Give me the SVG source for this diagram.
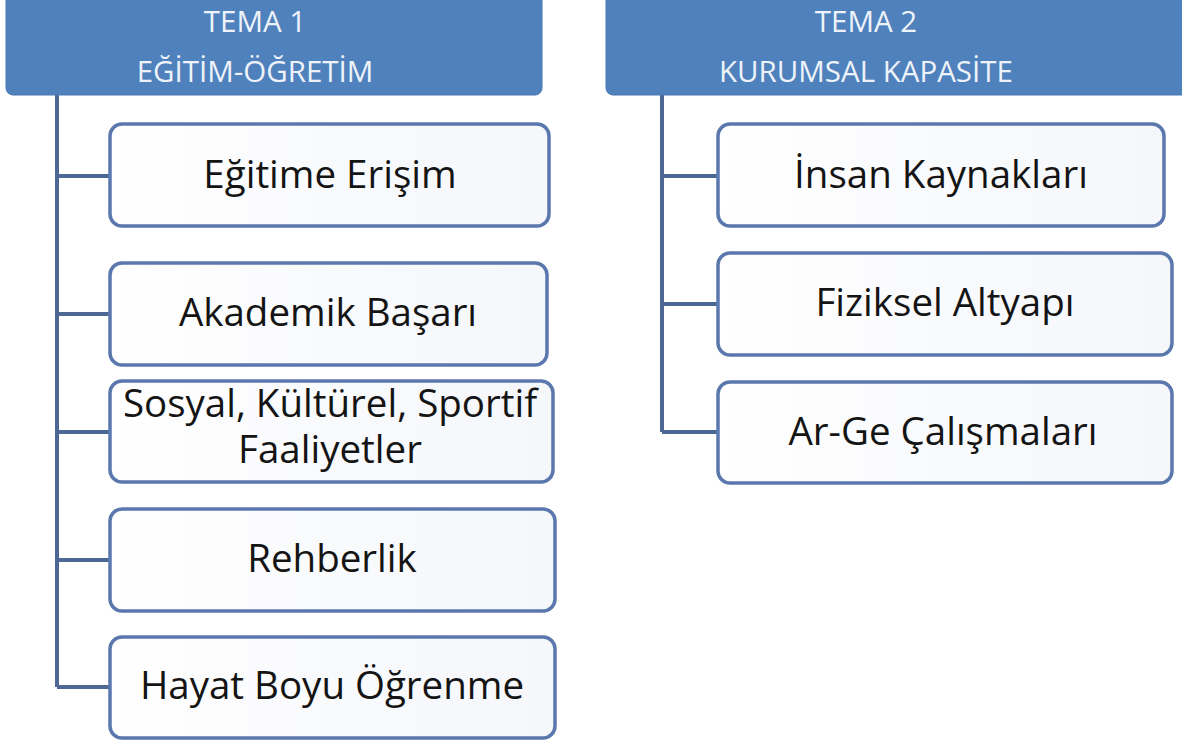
<svg xmlns="http://www.w3.org/2000/svg" width="1182" height="742" viewBox="0 0 1182 742">
<defs>
<linearGradient id="boxfill" x1="0" y1="0" x2="1" y2="0">
<stop offset="0" stop-color="#ffffff"/>
<stop offset="0.5" stop-color="#f9fafc"/>
<stop offset="1" stop-color="#f5f7fb"/>
</linearGradient>
</defs>
<style>
.hdr{fill:#4f81bd;stroke:#4a78b2;stroke-width:1}
.htxt{font-family:"Open Sans","Noto Sans",sans-serif;font-size:29.5px;font-weight:500;fill:#eef3fa;text-anchor:middle}
.box{fill:url(#boxfill);stroke:#5a78ad;stroke-width:3.5}
.btxt{font-family:"Open Sans","Noto Sans",sans-serif;font-size:38.5px;fill:#141414;text-anchor:middle}
.conn{fill:none;stroke:#4e6894;stroke-width:4}
</style>
<rect width="1182" height="742" fill="#ffffff"/>
<g id="connectors">
<path class="conn" d="M57 95 V687 M57 176 H110 M57 314 H110 M57 432 H110 M57 560 H110 M57 687 H110"/>
<path class="conn" d="M662 95 V432 M662 176 H718 M662 304 H718 M662 432 H718"/>
</g>
<g id="tema1">
<rect class="hdr" x="6" y="-8" width="536" height="103" rx="7"/>
<text class="htxt" x="255" y="32">TEMA 1</text>
<text class="htxt" x="255" y="82">EĞİTİM-ÖĞRETİM</text>
</g>
<g id="tema2">
<rect class="hdr" x="606" y="-8" width="584" height="103" rx="7"/>
<text class="htxt" x="866" y="32">TEMA 2</text>
<text class="htxt" x="866" y="82">KURUMSAL KAPASİTE</text>
</g>
<g id="egitime-erisim">
<rect class="box" x="110" y="124" width="439" height="102" rx="12"/>
<text class="btxt" x="330" y="188">Eğitime Erişim</text>
</g>
<g id="akademik-basari">
<rect class="box" x="110" y="263" width="437" height="102" rx="12"/>
<text class="btxt" x="328" y="326">Akademik Başarı</text>
</g>
<g id="sosyal">
<rect class="box" x="110" y="381" width="443" height="101" rx="12"/>
<text class="btxt"><tspan x="330" y="417">Sosyal, Kültürel, Sportif</tspan><tspan x="330" y="463">Faaliyetler</tspan></text>
</g>
<g id="rehberlik">
<rect class="box" x="110" y="509" width="445" height="102" rx="12"/>
<text class="btxt" x="332" y="572">Rehberlik</text>
</g>
<g id="hayat-boyu">
<rect class="box" x="110" y="637" width="445" height="101" rx="12"/>
<text class="btxt" x="332" y="699">Hayat Boyu Öğrenme</text>
</g>
<g id="insan-kaynaklari">
<rect class="box" x="718" y="124" width="446" height="102" rx="12"/>
<text class="btxt" x="941" y="188">İnsan Kaynakları</text>
</g>
<g id="fiziksel-altyapi">
<rect class="box" x="718" y="253" width="454" height="102" rx="12"/>
<text class="btxt" x="945" y="316">Fiziksel Altyapı</text>
</g>
<g id="ar-ge">
<rect class="box" x="718" y="382" width="454" height="101" rx="12"/>
<text class="btxt" x="943" y="445">Ar-Ge Çalışmaları</text>
</g>
</svg>
